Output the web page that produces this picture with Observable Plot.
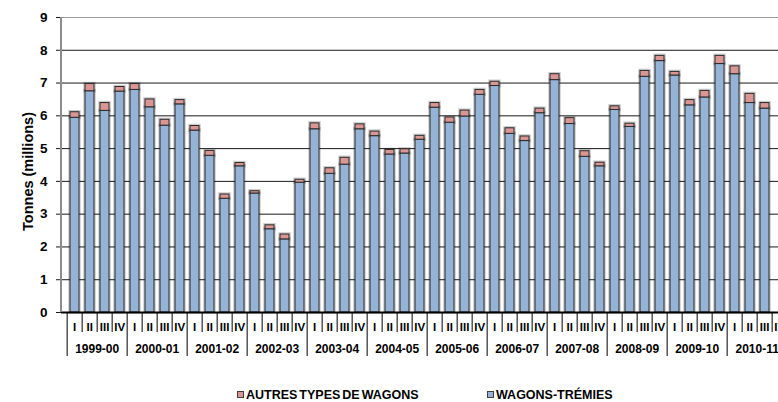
<!DOCTYPE html>
<html>
<head>
<meta charset="utf-8">
<script src="https://cdn.jsdelivr.net/npm/d3@7"></script>
<script src="https://cdn.jsdelivr.net/npm/@observablehq/plot@0.6"></script>
<style>
  html, body { margin: 0; padding: 0; background: #fff; overflow: hidden; }
  body { width: 778px; height: 402px; position: relative; font-family: "Liberation Sans", Arial, sans-serif; }
  #chart { position: absolute; left: 0; top: 0; width: 794px; }
  #chart svg { max-width: none !important; width: 794px; height: 365px; }
  .legend { position: absolute; top: 388px; font-weight: bold; font-size: 12.5px; word-spacing: -1.5px; color: #000; white-space: nowrap; }
  .legend .sw { display: inline-block; width: 5px; height: 5px; border: 1px solid #404040; margin-right: 2px; vertical-align: 1px; }
</style>
</head>
<body>
<div id="chart"></div>
<div class="legend" style="left:237px"><span class="sw" style="background:#d99694"></span>AUTRES TYPES DE WAGONS</div>
<div class="legend" style="left:487px"><span class="sw" style="background:#95b3d7"></span>WAGONS-TRÉMIES</div>
<script>
// Crop years and quarters on the category axis
const years = ["1999-00", "2000-01", "2001-02", "2002-03", "2003-04", "2004-05",
               "2005-06", "2006-07", "2007-08", "2008-09", "2009-10", "2010-11"];
const quarters = ["I", "II", "III", "IV"];

// Tonnes (millions) shipped per quarter, hopper cars
const wagonsTremies = [
  5.94, 6.75, 6.15, 6.74,
  6.79, 6.26, 5.70, 6.35,
  5.55, 4.78, 3.47, 4.46,
  3.63, 2.54, 2.23, 3.96,
  5.59, 4.23, 4.51, 5.59,
  5.38, 4.82, 4.85, 5.27,
  6.25, 5.79, 5.98, 6.64,
  6.91, 5.45, 5.23, 6.08,
  7.09, 5.75, 4.75, 4.46,
  6.18, 5.66, 7.19, 7.67,
  7.23, 6.32, 6.56, 7.58,
  7.27, 6.39, 6.22, null
];

// Tonnes (millions) shipped per quarter, other car types
const autresTypes = [
  0.17, 0.22, 0.24, 0.14,
  0.18, 0.24, 0.18, 0.13,
  0.14, 0.15, 0.13, 0.10,
  0.07, 0.12, 0.15, 0.09,
  0.18, 0.17, 0.21, 0.15,
  0.14, 0.14, 0.13, 0.12,
  0.14, 0.16, 0.18, 0.15,
  0.13, 0.17, 0.14, 0.14,
  0.18, 0.18, 0.17, 0.11,
  0.11, 0.10, 0.18, 0.16,
  0.11, 0.16, 0.20, 0.25,
  0.24, 0.28, 0.17, null
];

const yTicks = [0, 1, 2, 3, 4, 5, 6, 7, 8, 9];
const seriesNames = ["WAGONS-TRÉMIES", "AUTRES TYPES DE WAGONS"];
const seriesColors = ["#95b3d7", "#d99694"];

const keys = years.flatMap(y => quarters.map(q => `${y} ${q}`));
const rows = [];
keys.forEach((k, i) => {
  if (wagonsTremies[i] != null) rows.push({key: k, series: seriesNames[0], value: wagonsTremies[i]});
  if (autresTypes[i] != null) rows.push({key: k, series: seriesNames[1], value: autresTypes[i]});
});

const PAD = 0.38;
const FONT = "'Liberation Sans', Arial, sans-serif";

// Two-level category axis (quarters over years) and the vertical title
function categoryAxis(index, scales, values, dims) {
  const x = scales.x;
  const {height, marginBottom, marginTop, marginLeft} = dims;
  const step = x(keys[1]) - x(keys[0]);
  const bw = step * (1 - PAD);
  const gap = (step - bw) / 2;
  const y0 = height - marginBottom;
  const g = d3.create("svg:g")
    .attr("font-family", FONT)
    .attr("font-weight", "bold")
    .attr("fill", "#000");
  // left axis line
  g.append("line")
    .attr("x1", marginLeft).attr("x2", marginLeft)
    .attr("y1", marginTop).attr("y2", y0)
    .attr("stroke", "#8c8c8c").attr("stroke-width", 2);
  keys.forEach((k, i) => {
    const left = x(k) - gap;
    g.append("line")
      .attr("x1", left).attr("x2", left)
      .attr("y1", y0).attr("y2", y0 + (i % 4 === 0 ? 44 : 20))
      .attr("stroke", "#000").attr("stroke-width", 1);
    g.append("text")
      .attr("x", x(k) + bw / 2).attr("y", y0 + 19)
      .attr("text-anchor", "middle").attr("font-size", 11.5)
      .text(quarters[i % 4]);
  });
  years.forEach((yr, j) => {
    const first = x(keys[j * 4]) - gap;
    g.append("text")
      .attr("x", first + 2 * step).attr("y", y0 + 41)
      .attr("text-anchor", "middle").attr("font-size", 12)
      .text(yr);
  });
  g.append("text")
    .attr("transform", `translate(${marginLeft - 28},${(marginTop + y0) / 2 + 7}) rotate(-90)`)
    .attr("text-anchor", "middle").attr("font-size", 14.5)
    .text("Tonnes (millions)");
  return g.node();
}

const chart = Plot.plot({
  width: 794,
  height: 365,
  marginLeft: 61,
  marginRight: 0,
  marginTop: 17,
  marginBottom: 53,
  style: {fontFamily: FONT, fontWeight: "bold", fontSize: "13.5px", color: "#000", background: "transparent", maxWidth: "none"},
  x: {domain: keys, paddingInner: PAD, paddingOuter: PAD / 2, axis: null},
  y: {domain: [0, 9], axis: null},
  color: {domain: seriesNames, range: seriesColors},
  marks: [
    Plot.gridY(yTicks.filter(t => t > 0 && t < 9), {stroke: "#1a1a1a", strokeOpacity: 1}),
    Plot.gridY([9], {stroke: "#9a9a9a", strokeOpacity: 1}),
    Plot.axisY(yTicks, {tickSize: 5, tickPadding: 9, stroke: "#1a1a1a", label: null}),
    Plot.barY(rows, Plot.stackY({x: "key", y: "value", z: "series", order: seriesNames, fill: "none", stroke: "#000", strokeOpacity: 0.2, strokeWidth: 3.5})),
    Plot.barY(rows, Plot.stackY({x: "key", y: "value", z: "series", order: seriesNames, fill: "series", stroke: "#2a2a2a", strokeWidth: 1})),
    Plot.ruleY([0], {stroke: "#000", strokeWidth: 2}),
    categoryAxis
  ]
});
document.getElementById("chart").appendChild(chart);
</script>
</body>
</html>
